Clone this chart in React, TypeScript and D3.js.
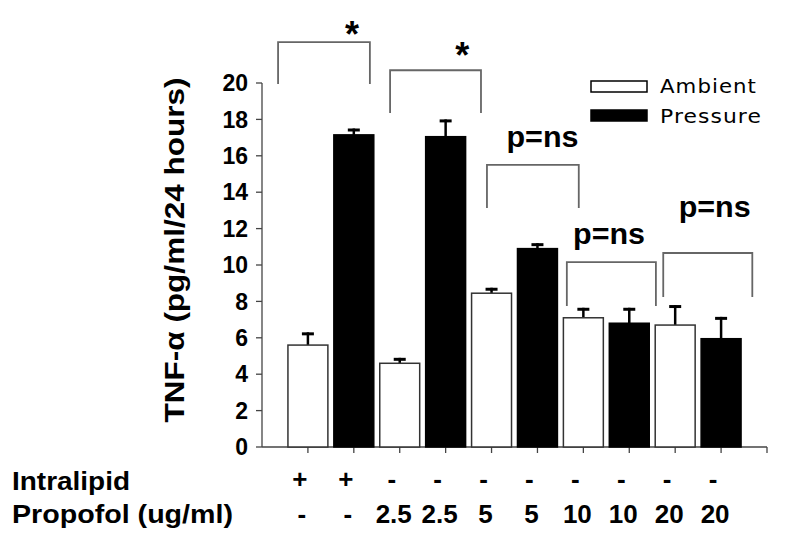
import React from "react";
import * as d3 from "d3";

const intralipid = ["+", "+", "-", "-", "-", "-", "-", "-", "-", "-"];
const propofol = ["-", "-", "2.5", "2.5", "5", "5", "10", "10", "20", "20"];
const groups = ["Ambient", "Pressure", "Ambient", "Pressure", "Ambient", "Pressure", "Ambient", "Pressure", "Ambient", "Pressure"];
const means = [5.6, 17.15, 4.6, 17.05, 8.45, 10.9, 7.1, 6.8, 6.7, 5.95];
const errors = [0.7, 0.35, 0.3, 0.95, 0.3, 0.3, 0.55, 0.85, 1.1, 1.2];
const yTicks = [0, 2, 4, 6, 8, 10, 12, 14, 16, 18, 20];
const legendItems = ["Ambient", "Pressure"];

// significance brackets: x in bar-position units, y in value units
const bracketX0 = [0.35, 2.79, 4.9, 6.64, 8.74];
const bracketX1 = [2.35, 4.77, 6.9, 8.58, 10.68];
const bracketTop = [22.25, 20.7, 15.5, 10.16, 10.66];
const bracketBottom = [19.95, 18.35, 13.13, 7.75, 8.24];
const bracketLabels = ["*", "*", "p=ns", "p=ns", "p=ns"];
const labelX = [1.96, 4.36, 6.11, 7.56, 9.86];
const labelY = [22.0, 20.8, 16.48, 11.15, 12.64];

const W = 800;
const H = 543;

export default function App() {
  const x = d3.scaleLinear().domain([0, 11]).range([262, 767]);
  const y = d3.scaleLinear().domain([0, 20]).range([447, 83]);
  const bw = x(0.87) - x(0);
  const font = "'Liberation Sans', Arial, sans-serif";
  const axisColor = "#444";
  const brColor = "#666";

  return (
    <svg width={W} height={H} style={{ position: "absolute", left: 0, top: 0, background: "#fff" }}>
      {/* y axis */}
      <line x1={x(0)} x2={x(0)} y1={y(20)} y2={y(0)} stroke={axisColor} strokeWidth={1.3} />
      {yTicks.map((t) => (
        <g key={t}>
          <line x1={x(0) - 6} x2={x(0)} y1={y(t)} y2={y(t)} stroke={axisColor} strokeWidth={1.3} />
          <text x={x(0) - 14} y={y(t)} dy="0.36em" textAnchor="end" fontFamily={font} fontWeight="bold" fontSize={23} fill="#000">
            {t}
          </text>
        </g>
      ))}
      {/* x axis */}
      <line x1={x(0)} x2={x(11)} y1={y(0)} y2={y(0)} stroke={axisColor} strokeWidth={1.3} />
      {d3.range(1, 12).map((i) => (
        <line key={i} x1={x(i)} x2={x(i)} y1={y(0)} y2={y(0) + 6} stroke={axisColor} strokeWidth={1.3} />
      ))}

      {/* bars */}
      {means.map((m, i) => {
        const cx = x(i + 1);
        const isP = groups[i] === "Pressure";
        const top = y(m + errors[i]);
        return (
          <g key={i}>
            <line x1={cx} x2={cx} y1={y(m)} y2={top} stroke="#000" strokeWidth={2.5} />
            <line x1={cx - 6} x2={cx + 6} y1={top + 1.5} y2={top + 1.5} stroke="#000" strokeWidth={3} />
            <rect
              x={cx - bw / 2}
              y={y(m)}
              width={bw}
              height={y(0) - y(m)}
              fill={isP ? "#000" : "#fff"}
              stroke={isP ? "#000" : "#333"}
              strokeWidth={1.5}
            />
          </g>
        );
      })}

      {/* brackets */}
      {bracketX0.map((bx, i) => (
        <g key={i}>
          <path
            d={`M${x(bx)},${y(bracketBottom[i])}V${y(bracketTop[i])}H${x(bracketX1[i])}V${y(bracketBottom[i])}`}
            fill="none"
            stroke={brColor}
            strokeWidth={1.8}
          />
          {bracketLabels[i] === "*" ? (
            <text x={x(labelX[i])} y={y(labelY[i])} textAnchor="middle" fontFamily={font} fontWeight="bold" fontSize={36} fill="#000">
              *
            </text>
          ) : (
            <text x={x(labelX[i])} y={y(labelY[i])} textAnchor="middle" fontFamily={font} fontWeight="bold" fontSize={30} fill="#000" textLength={72} lengthAdjust="spacingAndGlyphs">
              {bracketLabels[i]}
            </text>
          )}
        </g>
      ))}

      {/* legend */}
      {legendItems.map((g, i) => (
        <g key={g}>
          <rect x={591} y={81 + i * 29} width={56} height={11} fill={i === 1 ? "#000" : "#fff"} stroke="#000" strokeWidth={1.5} />
          <text x={660} y={93 + i * 30} fontFamily="'DejaVu Sans', sans-serif" fontSize={20} fill="#000" letterSpacing={1} textLength={i === 0 ? 97 : 102} lengthAdjust="spacingAndGlyphs">
            {g}
          </text>
        </g>
      ))}

      {/* y title */}
      <text
        transform={`translate(184,250) rotate(-90)`}
        textAnchor="middle"
        fontFamily={font}
        fontWeight="bold"
        fontSize={27}
        fill="#000"
        textLength={345}
        lengthAdjust="spacingAndGlyphs"
      >
        TNF-α (pg/ml/24 hours)
      </text>

      {/* bottom table */}
      <text x={12} y={490} fontFamily={font} fontWeight="bold" fontSize={25} fill="#000" textLength={118} lengthAdjust="spacingAndGlyphs">
        Intralipid
      </text>
      <text x={12} y={523} fontFamily={font} fontWeight="bold" fontSize={25} fill="#000" textLength={221} lengthAdjust="spacingAndGlyphs">
        Propofol (ug/ml)
      </text>
      {intralipid.map((v, i) => (
        <text key={"i" + i} x={x(i + 1) - 8} y={488} textAnchor="middle" fontFamily={font} fontWeight="bold" fontSize={26} fill="#000">
          {v}
        </text>
      ))}
      {propofol.map((v, i) => (
        <text key={"p" + i} x={x(i + 1) - 6} y={523} textAnchor="middle" fontFamily={font} fontWeight="bold" fontSize={26} fill="#000">
          {v}
        </text>
      ))}
    </svg>
  );
}
